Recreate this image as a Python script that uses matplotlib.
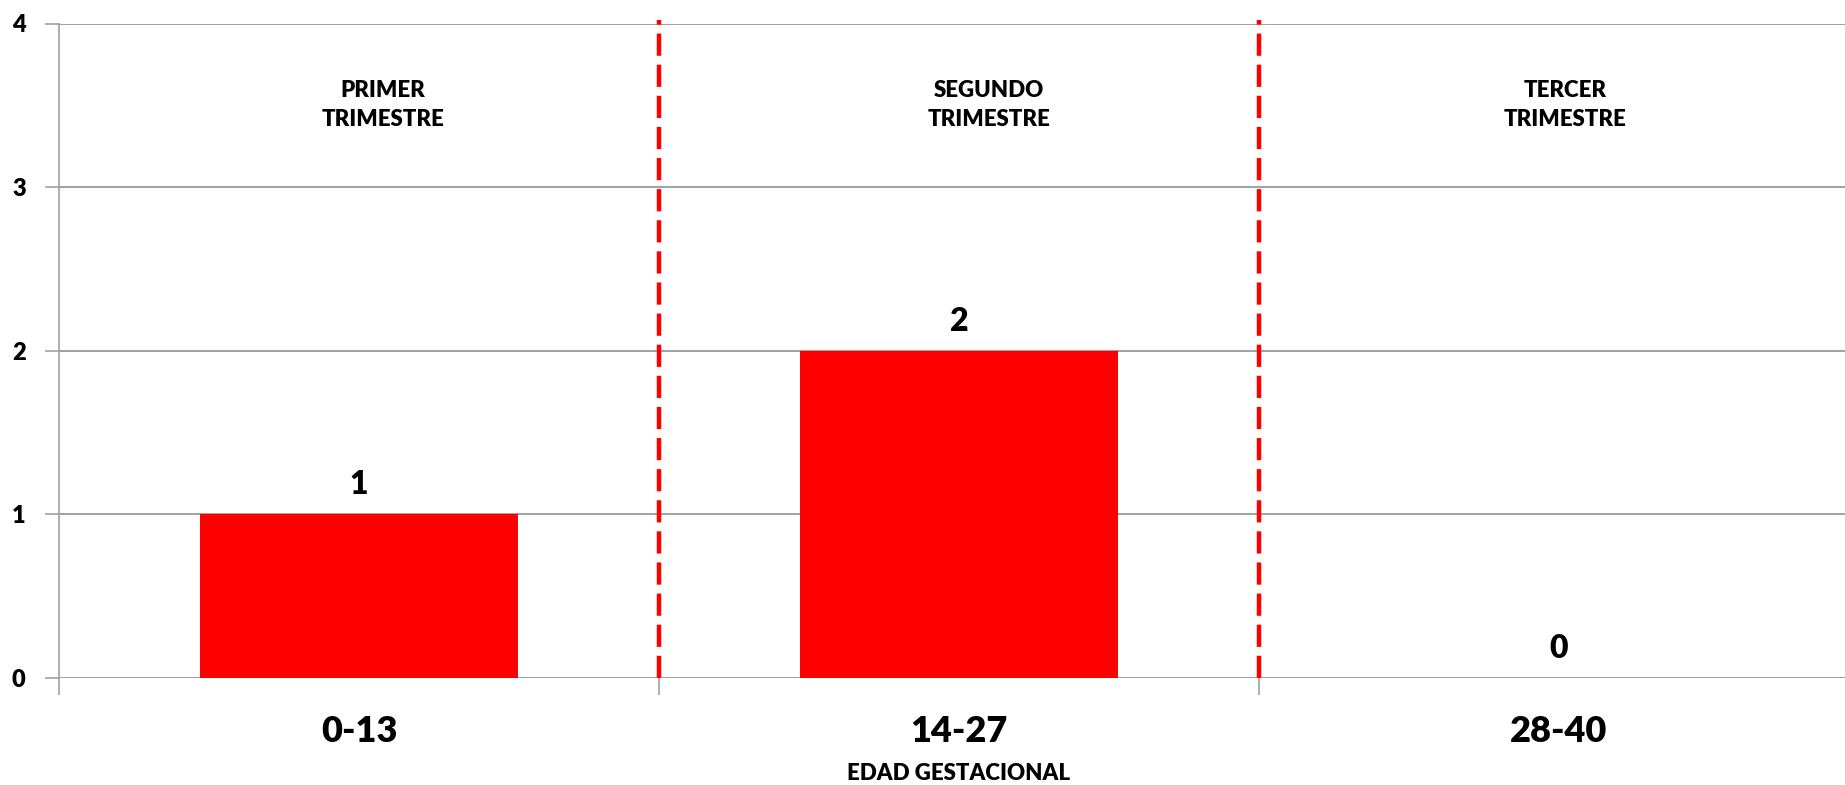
import matplotlib.pyplot as plt
from matplotlib.ticker import FixedLocator

# datos
categorias = ['0-13', '14-27', '28-40']
casos = [1, 2, 0]
trimestres = ['PRIMER\nTRIMESTRE', 'SEGUNDO\nTRIMESTRE', 'TERCER\nTRIMESTRE']
trim_dx = [0.04, 0.05, 0.01]
y_ticks = [0, 1, 2, 3, 4]
separadores = [0.5, 1.5]

plt.rcParams['font.family'] = ['Lato', 'DejaVu Sans']
plt.rcParams['font.weight'] = 'bold'

fig = plt.figure(figsize=(18.45, 7.85), dpi=100)
ax = fig.add_axes([59 / 1845, 107 / 785, 1800 / 1845, 654.5 / 785])

x = list(range(len(categorias)))
ax.bar(x, casos, width=0.53, color='#ff0000', zorder=3)

# etiquetas de valor
for i, v in enumerate(casos):
    ax.text(i, v + 0.18, str(v), ha='center', va='center',
            fontsize=23, fontweight='heavy', color='black', zorder=4)

for i, t in enumerate(trimestres):
    ax.text(i + trim_dx[i], 3.5, t, ha='center', va='center',
            fontsize=16, fontweight='heavy', linespacing=1.45)

for s in separadores:
    ax.axvline(s, ymin=0, ymax=1.005, color='#ff0000', lw=3.2,
               linestyle=(0, (5, 2.0)), zorder=5, clip_on=False)

ax.set_xlim(-0.5, 2.5)
ax.set_ylim(0, 4)
ax.set_yticks(y_ticks, labels=[str(t) for t in y_ticks],
              fontsize=17, fontweight='heavy')
ax.set_xticks(x, labels=categorias, fontsize=26, fontweight='heavy')
ax.xaxis.set_minor_locator(FixedLocator([-0.5, 0.5, 1.5, 2.5]))
ax.tick_params(axis='x', which='major', length=0, pad=27)
ax.tick_params(axis='x', which='minor', length=12, color='#a0a0a0', width=1.2)
ax.tick_params(axis='y', length=10, color='#a0a0a0', width=1.2, pad=14)

ax.grid(axis='y', color='#a0a0a0', linewidth=1.4, zorder=0)
for side in ['top', 'right', 'bottom']:
    ax.spines[side].set_visible(False)
ax.spines['left'].set_color('#a0a0a0')
ax.spines['left'].set_linewidth(1.2)

fig.text(959 / 1845, 11 / 785, 'EDAD GESTACIONAL', ha='center',
         va='center', fontsize=16, fontweight='heavy')

fig.savefig('out.png', dpi=100)
